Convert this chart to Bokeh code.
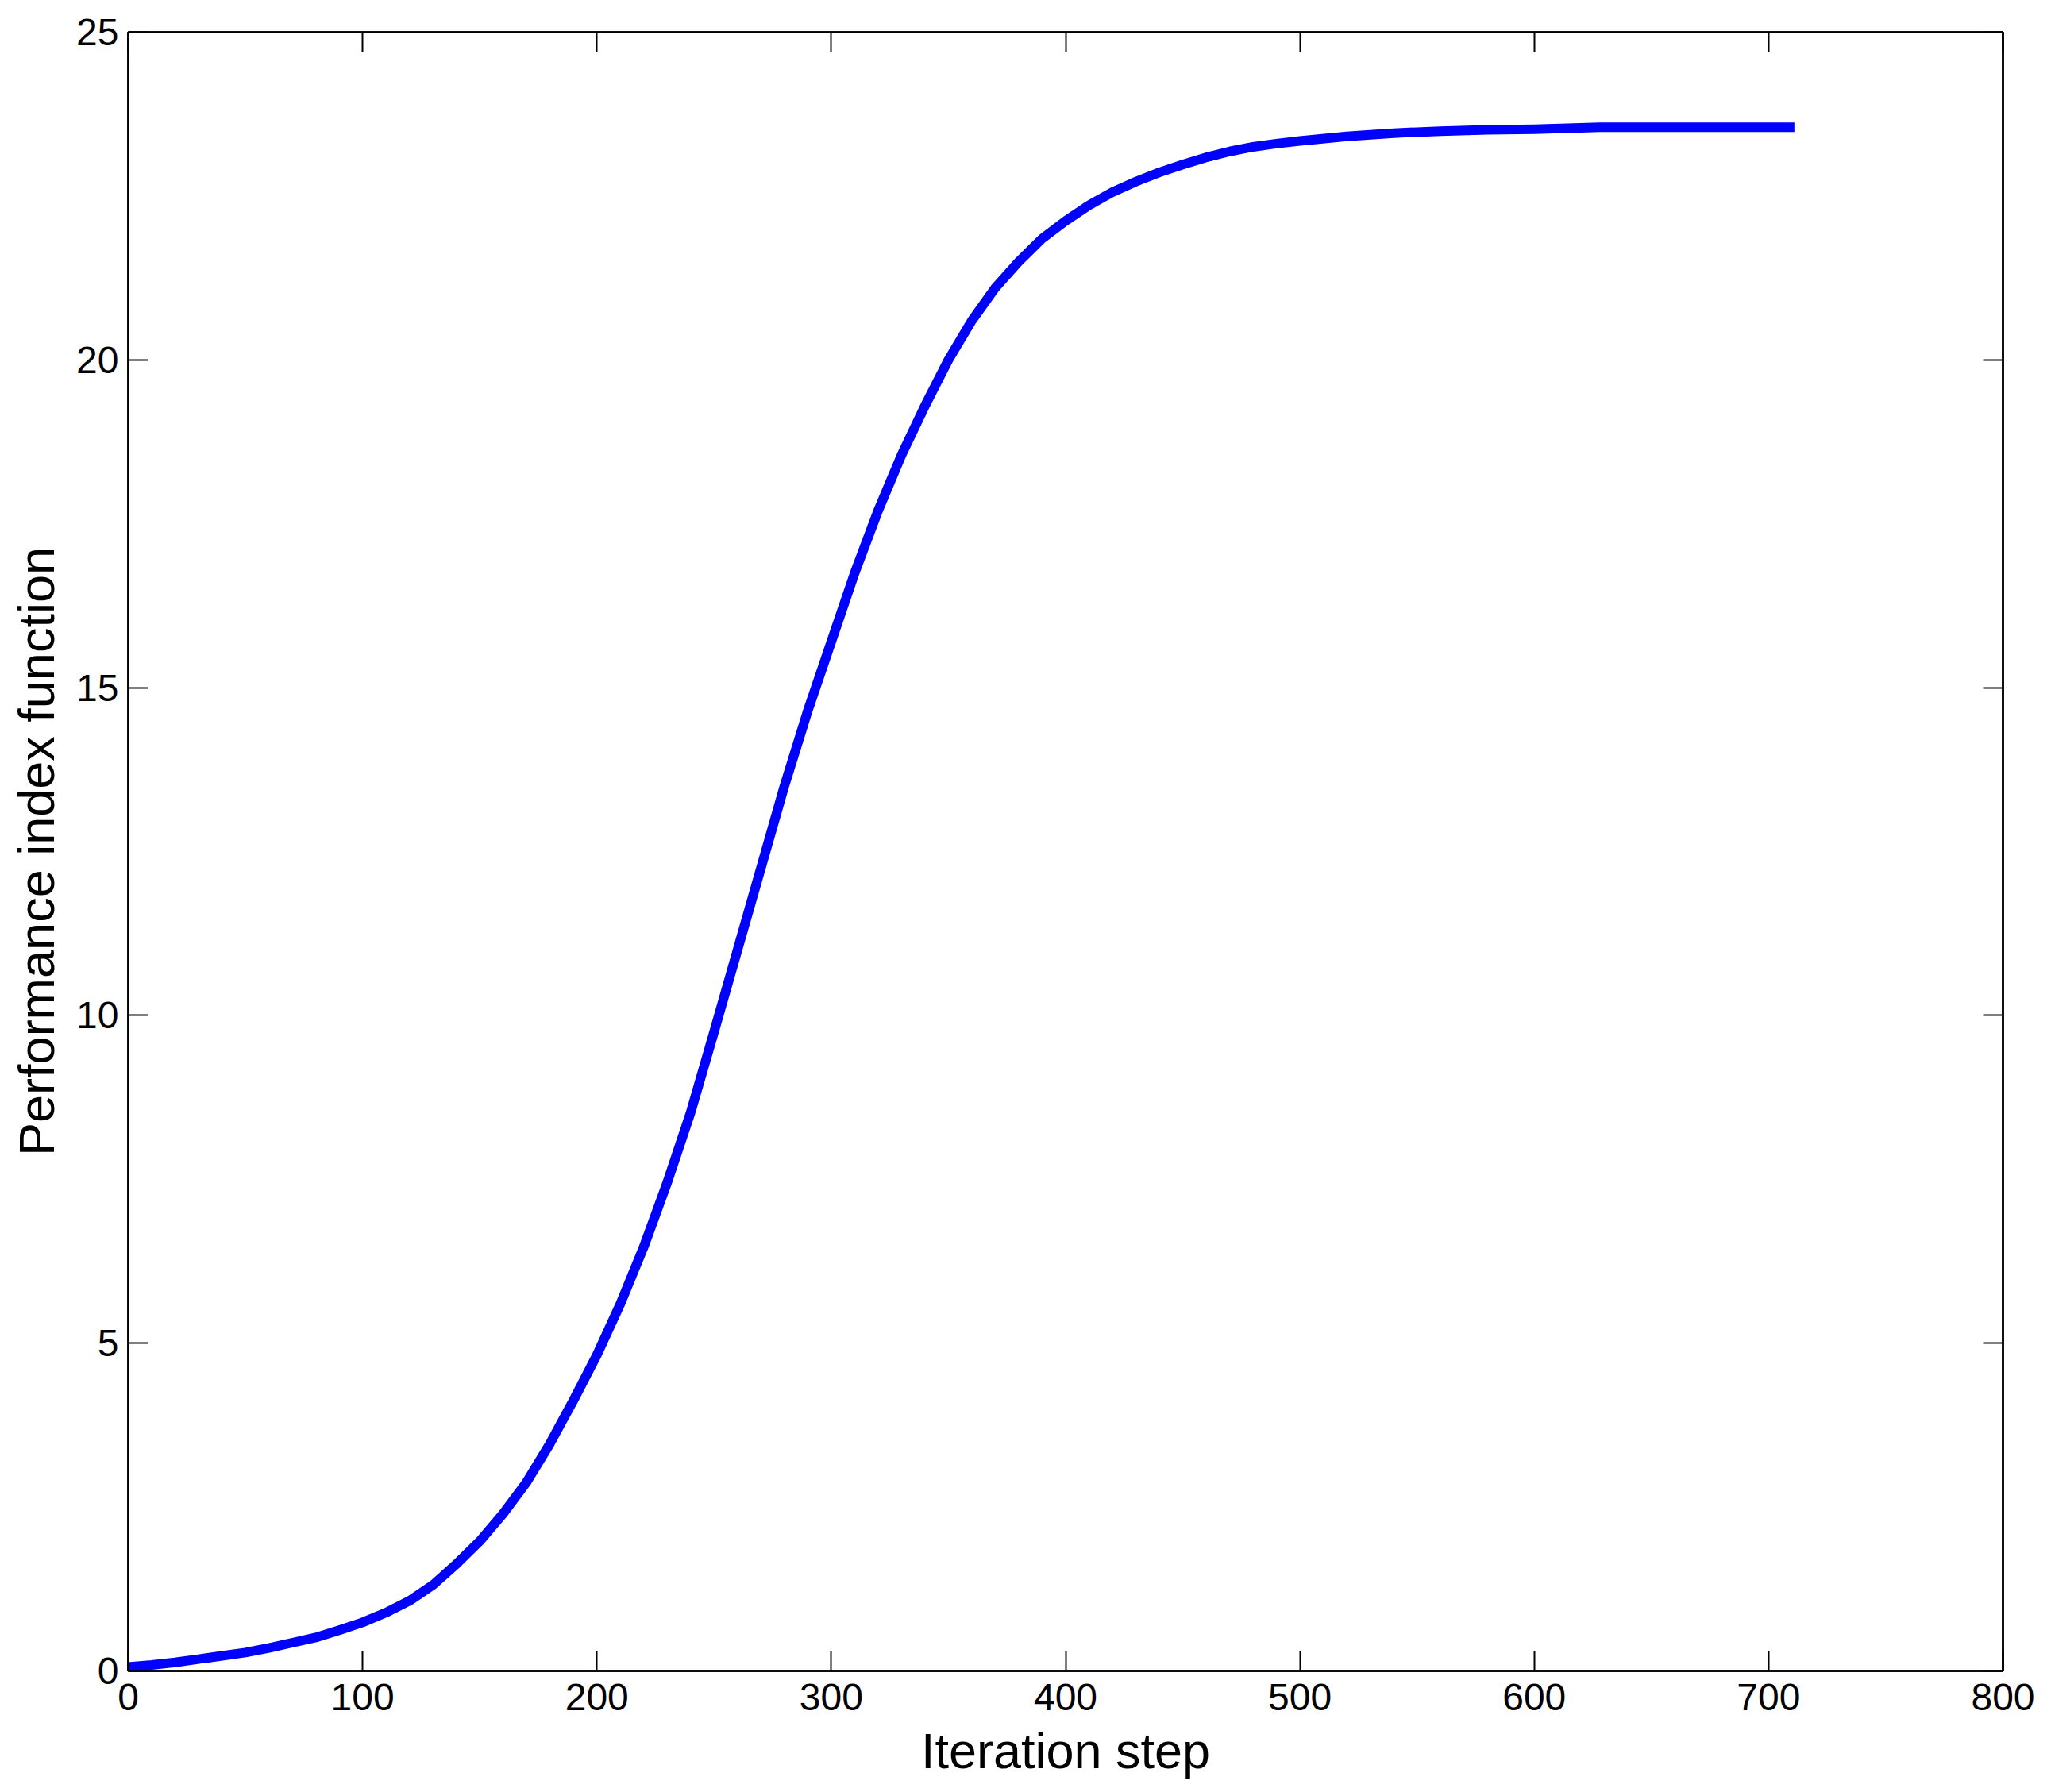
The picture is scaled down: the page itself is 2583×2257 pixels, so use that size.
from bokeh.plotting import figure
from bokeh.models import LinearAxis, Range1d, FixedTicker
from bokeh.embed import file_html
from bokeh.resources import INLINE

# ---- data ----
iteration = [0, 10, 20, 30, 40, 50, 60, 70, 80, 90, 100, 110, 120, 130, 140, 150,
             160, 170, 180, 190, 200, 210, 220, 230, 240, 250, 260, 270, 280, 290,
             300, 310, 320, 330, 340, 350, 360, 370, 380, 390, 400, 410, 420, 430,
             440, 450, 460, 470, 480, 490, 500, 520, 540, 560, 580, 600, 628, 650,
             680, 711]
performance = [0.06, 0.09, 0.13, 0.18, 0.23, 0.28, 0.35, 0.43, 0.51, 0.62, 0.74,
               0.89, 1.07, 1.31, 1.63, 1.98, 2.40, 2.88, 3.47, 4.13, 4.82, 5.60,
               6.47, 7.45, 8.52, 9.75, 11.00, 12.25, 13.50, 14.65, 15.70, 16.75,
               17.70, 18.55, 19.30, 20.00, 20.60, 21.10, 21.50, 21.85, 22.12, 22.36,
               22.56, 22.72, 22.86, 22.98, 23.09, 23.18, 23.25, 23.30, 23.34, 23.41,
               23.46, 23.49, 23.51, 23.52, 23.55, 23.55, 23.55, 23.55]
x_ticks = [0, 100, 200, 300, 400, 500, 600, 700, 800]
y_ticks = [0, 5, 10, 15, 20, 25]
x_title = "Iteration step"
y_title = "Performance index function"

FONT = "Liberation Sans"

p = figure(frame_width=2361, frame_height=2064,
           x_range=Range1d(0, 800), y_range=Range1d(0, 25),
           output_backend="svg", toolbar_location=None,
           min_border_left=161, min_border_right=55,
           min_border_top=40, min_border_bottom=147,
           background_fill_color="white", border_fill_color="white")

p.xgrid.visible = False
p.ygrid.visible = False
p.outline_line_color = "black"
p.outline_line_width = 2.5

p.line(iteration, performance, line_color="#0000FF", line_width=12,
       line_join="round")


def style(ax, ticks, labels=True):
    ax.ticker = FixedTicker(ticks=ticks)
    ax.major_tick_in = 25
    ax.major_tick_out = 0
    ax.minor_tick_in = 0
    ax.minor_tick_out = 0
    ax.major_tick_line_color = "black"
    ax.major_tick_line_width = 2
    ax.axis_line_color = "black"
    ax.axis_line_width = 2.5
    ax.major_label_text_font = FONT
    ax.major_label_text_color = "black"
    if labels:
        ax.major_label_text_font_size = "48px"
    else:
        ax.major_label_overrides = {t: "" for t in ticks}
        ax.major_label_text_font_size = "1px"
        ax.major_label_standoff = 0


style(p.xaxis[0], x_ticks)
style(p.yaxis[0], y_ticks)
p.xaxis[0].major_label_standoff = 16
p.yaxis[0].major_label_standoff = 12

for ax, title in ((p.xaxis[0], x_title), (p.yaxis[0], y_title)):
    ax.axis_label = title
    ax.axis_label_text_font = FONT
    ax.axis_label_text_font_size = "63px"
    ax.axis_label_text_font_style = "normal"
    ax.axis_label_text_color = "black"
p.xaxis[0].axis_label_standoff = 13
p.yaxis[0].axis_label_standoff = 12

top = LinearAxis()
style(top, x_ticks, labels=False)
p.add_layout(top, "above")
right = LinearAxis()
style(right, y_ticks, labels=False)
p.add_layout(right, "right")

open("out.html", "w").write(file_html(p, INLINE))
